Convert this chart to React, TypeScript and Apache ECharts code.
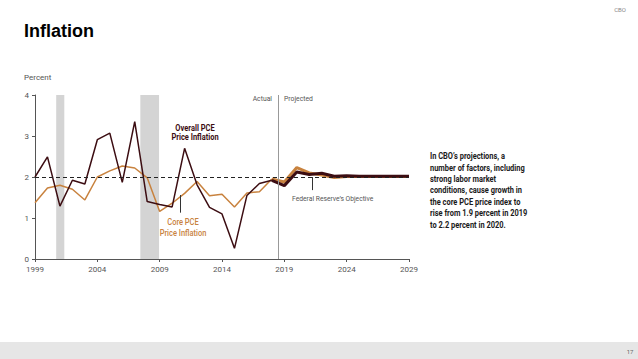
import React, { useEffect, useRef } from "react";
import * as echarts from "echarts";

const years = [1999, 2000, 2001, 2002, 2003, 2004, 2005, 2006, 2007, 2008, 2009, 2010, 2011, 2012, 2013, 2014, 2015, 2016, 2017, 2018, 2019, 2020, 2021, 2022, 2023, 2024, 2025, 2026, 2027, 2028, 2029];
// 1999-2018 (actual)
const overallActual = [2.0, 2.49, 1.29, 1.92, 1.83, 2.91, 3.07, 1.87, 3.35, 1.4, 1.33, 1.27, 2.7, 1.81, 1.26, 1.1, 0.26, 1.55, 1.84, 1.92];
const coreActual = [1.37, 1.73, 1.8, 1.7, 1.44, 2.0, 2.15, 2.27, 2.22, 1.98, 1.16, 1.36, 1.6, 1.89, 1.54, 1.58, 1.27, 1.61, 1.64, 1.95];
// 2018-2029 (projected)
const overallProjected = [1.92, 1.79, 2.12, 2.06, 2.09, 2.02, 2.03, 2.02, 2.02, 2.02, 2.02, 2.02];
const coreProjected = [1.95, 1.88, 2.23, 2.1, 2.05, 1.99, 2.01, 2.01, 2.01, 2.01, 2.01, 2.01];
const recessions = [[2000.7, 2001.35], [2007.45, 2008.95]];
const xTicks = [1999, 2004, 2009, 2014, 2019, 2024, 2029];
const yTicks = [0, 1, 2, 3, 4];
const objective = 2;
const actualBoundary = 2018.55;
const noteLines = [
  "In CBO’s projections, a",
  "number of factors, including",
  "strong labor market",
  "conditions, cause growth in",
  "the core PCE price index to",
  "rise from 1.9 percent in 2019",
  "to 2.2 percent in 2020.",
];

const DARK = "#3c0d12";
const ORANGE = "#c8823e";
const FONT = "Roboto, 'Liberation Sans', sans-serif";

export default function App() {
  const ref = useRef<HTMLDivElement>(null);
  useEffect(() => {
    if (!ref.current) return;
    const chart = echarts.init(ref.current, undefined, { renderer: "svg" });
    const startIdx = years.indexOf(2018);
    const oA = overallActual.map((v, i) => [years[i], v]);
    const cA = coreActual.map((v, i) => [years[i], v]);
    const oP = overallProjected.map((v, i) => [years[startIdx + i], v]);
    const cP = coreProjected.map((v, i) => [years[startIdx + i], v]);

    const graphic: any[] = [
      { type: "text", x: 24, y: 31, style: { text: "Inflation", fontSize: 18, fontWeight: 900, fontFamily: "'Liberation Sans', Arial, sans-serif", fill: "#000", verticalAlign: "middle" } },
      { type: "text", x: 626, y: 9, style: { text: "CBO", fontSize: 6, fontFamily: FONT, fill: "#888", align: "right", verticalAlign: "middle" } },
      { type: "rect", shape: { x: 0, y: 342, width: 638, height: 17 }, style: { fill: "#e6e6e6" } },
      { type: "text", x: 630, y: 351, style: { text: "17", fontSize: 6, fontFamily: FONT, fill: "#666", align: "center", verticalAlign: "middle" } },
      { type: "text", x: 24, y: 77, style: { text: "Percent", fontSize: 8, fontFamily: FONT, fill: "#555", verticalAlign: "middle" } },
      { type: "text", x: 272, y: 98.5, style: { text: "Actual", fontSize: 6.8, fontFamily: FONT, fill: "#555", align: "right", verticalAlign: "middle" } },
      { type: "text", x: 284, y: 98.5, style: { text: "Projected", fontSize: 6.8, fontFamily: FONT, fill: "#555", align: "left", verticalAlign: "middle" } },
      { type: "text", x: 195, y: 133, scaleX: 0.88, style: { text: "Overall PCE\nPrice Inflation", fontSize: 8.5, lineHeight: 9.5, fontWeight: "bold", fontFamily: FONT, fill: DARK, align: "center", verticalAlign: "middle" } },
      { type: "text", x: 183, y: 228, scaleX: 0.88, style: { text: "Core PCE\nPrice Inflation", fontSize: 8.5, lineHeight: 10.5, fontWeight: "500", fontFamily: FONT, fill: ORANGE, align: "center", verticalAlign: "middle" } },
      { type: "text", x: 292, y: 198, scaleX: 0.9, style: { text: "Federal Reserve’s Objective", fontSize: 7.5, fontFamily: FONT, fill: "#555", align: "left", verticalAlign: "middle" } },
    ];
    noteLines.forEach((t, i) => {
      graphic.push({ type: "text", x: 430, y: 156 + i * 11.4, scaleX: 0.83, style: { text: t, fontSize: 9, fontWeight: "bold", fontFamily: FONT, fill: "#1a1a1a", verticalAlign: "middle" } });
    });

    chart.setOption({
      animation: false,
      backgroundColor: "#fff",
      grid: { left: 35, right: 229, top: 95, bottom: 100 },
      xAxis: {
        type: "value",
        min: xTicks[0],
        max: xTicks[xTicks.length - 1],
        interval: 5,
        axisLine: { show: true, lineStyle: { color: "#555", width: 1 } },
        axisTick: { show: true, length: 3, lineStyle: { color: "#555" } },
        axisLabel: { color: "#555", fontSize: 8, fontFamily: FONT, margin: 6, formatter: (v: number) => String(v) },
        splitLine: { show: false },
      },
      yAxis: {
        type: "value",
        min: yTicks[0],
        max: yTicks[yTicks.length - 1],
        interval: 1,
        axisLine: { show: true, lineStyle: { color: "#555", width: 1 } },
        axisTick: { show: true, length: 3, lineStyle: { color: "#555" } },
        axisLabel: { color: "#555", fontSize: 8, fontFamily: FONT, margin: 6 },
        splitLine: { show: false },
      },
      graphic,
      series: [
        {
          type: "line",
          data: [],
          z: 1,
          silent: true,
          markArea: {
            silent: true,
            itemStyle: { color: "#d4d4d4" },
            data: recessions.map(([a, b]) => [{ xAxis: a }, { xAxis: b }]),
          },
          markLine: {
            silent: true,
            symbol: "none",
            label: { show: false },
            data: [
              { yAxis: objective, lineStyle: { color: "#222", type: [4, 3], width: 1 } },
              { xAxis: actualBoundary, lineStyle: { color: "#999", type: "solid", width: 1 } },
              [
                { coord: [2021.2, objective], lineStyle: { color: "#333", type: "solid", width: 1 } },
                { coord: [2021.2, 1.68] },
              ],
              [
                { coord: [2010.68, 1.56], lineStyle: { color: "#333", type: "solid", width: 1 } },
                { coord: [2010.68, 1.13] },
              ],
            ],
          },
        },
        { type: "line", data: cA, z: 3, symbol: "none", lineStyle: { color: ORANGE, width: 1.5 } },
        { type: "line", data: oA, z: 4, symbol: "none", lineStyle: { color: DARK, width: 1.5 } },
        { type: "line", data: cP, z: 3, symbol: "none", lineStyle: { color: ORANGE, width: 3 } },
        { type: "line", data: oP, z: 4, symbol: "none", lineStyle: { color: DARK, width: 3 } },
      ],
    });
    return () => chart.dispose();
  }, []);
  return <div ref={ref} style={{ position: "fixed", left: 0, top: 0, width: 638, height: 359 }} />;
}
